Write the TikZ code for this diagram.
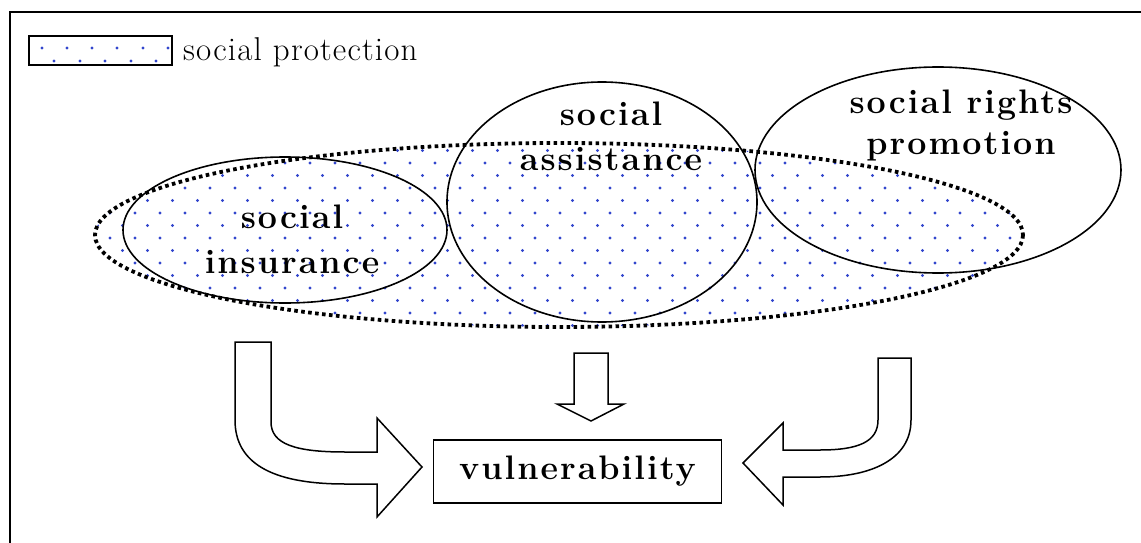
\documentclass[tikz,border=0pt]{standalone}
\usepackage{fontspec}
\newfontfamily\lblfont[LetterSpace=6]{Latin Modern Roman}
\newfontfamily\keyfont[LetterSpace=3.5]{Latin Modern Roman}
\usetikzlibrary{shapes.geometric}
\definecolor{dotblue}{RGB}{50,70,205}
\begin{document}
\begin{tikzpicture}[x=1pt,y=-1pt,
  ring/.style={draw, ellipse, line width=1.6pt, inner sep=0pt},
  lbl/.style={align=center, inner sep=0pt, anchor=base,
    font=\lblfont\bfseries\fontsize{34}{45}\selectfont},
  blockarrow/.style={draw, line width=1.5pt, fill=white, line join=miter},
  dotfill/.style={fill=dotblue},
]
\useasboundingbox (0,0) rectangle (1141,543);

% frame (top and left edges)
\draw[line width=2.5pt] (10,545) -- (10,12) -- (1143,12);

% legend
\node[draw, line width=1.6pt, minimum width=143pt, minimum height=29pt, inner sep=0pt] (key) at (100.5,50.5) {};
\foreach \x in {42,67,92,117,143,168} \fill[dotfill] (\x,48) circle (1.6pt);
\foreach \x in {54,80,105,131,156} \fill[dotfill] (\x,61) circle (1.6pt);
\node[anchor=base west, inner sep=0pt, font=\keyfont\fontsize{33}{38}\selectfont] (keytxt) at (183,60) {social protection};

% social protection: dotted region
\node[ellipse, minimum width=928pt, minimum height=184pt, inner sep=0pt] (prot) at (559,235) {};
\begin{scope}
  \clip (prot.center) ellipse [x radius=464, y radius=92];
  \foreach \j in {0,...,16} {
    \pgfmathsetmacro{\off}{12.5*mod(\j,2)}
    \foreach \i in {0,...,38} {
      \fill[dotfill] ({85+\off+25*\i},{138+12.5*\j}) circle (1.6pt);
    }
  }
\end{scope}
\draw[line width=3.8pt, dash pattern=on 3.6pt off 3.4pt] (prot.center) ellipse [x radius=464, y radius=92];

% the three instruments
\node[ring, minimum width=324pt, minimum height=146pt] (ins) at (285,230) {};
\node[ring, minimum width=310pt, minimum height=240pt] (ass) at (602,202) {};
\node[ring, minimum width=366pt, minimum height=206pt] (rig) at (938,170) {};

\node[lbl] (instxt) at (292,273) {social\\insurance};
\node[lbl] (asstxt) at (611,170) {social\\assistance};
\node[lbl, font=\lblfont\bfseries\fontsize{34}{41}\selectfont] (rigtxt) at (961,154) {social rights\\promotion};

% target
\node[draw, line width=1.8pt, minimum width=288pt, minimum height=63pt, inner sep=0pt,
      font=\lblfont\bfseries\fontsize{34}{40}\selectfont] (vul) at (577.5,471.5) {vulnerability};

% block arrows into the target
\draw[blockarrow] (235,342) -- (271,342) -- (271,422)
  .. controls (271,444) and (295,452) .. (345,452) -- (377,452) -- (377,418)
  -- (422,467) -- (377,517) -- (377,484) -- (345,484)
  .. controls (270,484) and (235,462) .. (235,420) -- cycle;
\draw[blockarrow] (574,353) -- (608,353) -- (608,404) -- (624,404)
  -- (591,421) -- (557,404) -- (574,404) -- cycle;
\draw[blockarrow] (878,358) -- (911,358) -- (911,420)
  .. controls (911,460) and (870,477) .. (820,477) -- (783,477) -- (783,505)
  -- (743,463) -- (783,423) -- (783,450) -- (820,450)
  .. controls (858,450) and (878,442) .. (878,420) -- cycle;
\end{tikzpicture}
\end{document}
